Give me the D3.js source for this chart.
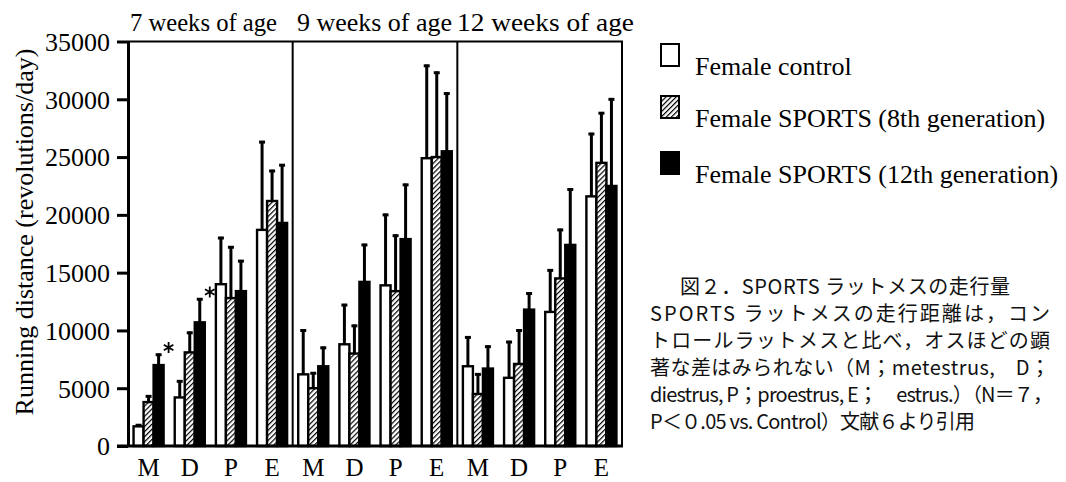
<!DOCTYPE html>
<html>
<head>
<meta charset="utf-8">
<script src="https://cdn.jsdelivr.net/npm/d3@7"></script>
<style>
    body { margin: 0; background: #ffffff; }
    svg { display: block; }
    .serif { font-family: "Liberation Serif", "Times New Roman", serif; fill: #000; }
    .cap { font-family: "Noto Sans CJK JP", "Noto Sans", sans-serif; fill: #111; }
</style>
</head>
<body>
<svg id="chart" width="1066" height="482"></svg>
<script>
// data
var ages = ["7 weeks of age", "9 weeks of age", "12 weeks of age"];
var stages = ["M", "D", "P", "E"];
var series = ["Female control", "Female SPORTS (8th generation)", "Female SPORTS (12th generation)"];
var yTicks = [0, 5000, 10000, 15000, 20000, 25000, 30000, 35000];

// means, one row per age, columns M D P E
var controlMean = [[1700, 4200, 14000, 18700], [6200, 8800, 13900, 24900], [6900, 5900, 11600, 21600]];
var gen8Mean    = [[3800, 8100, 12800, 21200], [5000, 8000, 13400, 25000], [4500, 7100, 14500, 24500]];
var gen12Mean   = [[7000, 10700, 13400, 19300], [6900, 14200, 17900, 25500], [6700, 11800, 17400, 22500]];
// top of error bars
var controlErr = [[1900, 5700, 18100, 26400], [10100, 12300, 20100, 33000], [9500, 9100, 15300, 27100]];
var gen8Err    = [[4400, 9900, 17300, 23900], [6400, 10500, 18300, 32400], [6300, 10100, 18800, 28900]];
var gen12Err   = [[8000, 12800, 16100, 24400], [8600, 17500, 22700, 30600], [8700, 13300, 22300, 30100]];
// significance marks: [age index, stage, series index]
var stars = [[0, "M", 1], [0, "M", 2], [0, "D", 1], [0, "D", 2]];

var captionLines = [
    "図２．SPORTS ラットメスの走行量",
    "SPORTS ラットメスの走行距離は，コン",
    "トロールラットメスと比べ，オスほどの顕",
    "著な差はみられない（M；metestrus,　D；",
    "diestrus, P；proestrus, E；　estrus.）（N＝７，",
    "P＜０.05 vs. Control）文献６より引用"
];

var means = [controlMean, gen8Mean, gen12Mean];
var errs = [controlErr, gen8Err, gen12Err];

var svg = d3.select("#chart");

var defs = svg.append("defs");
var hatch = defs.append("pattern")
    .attr("id", "hatch")
    .attr("patternUnits", "userSpaceOnUse")
    .attr("width", 3.6)
    .attr("height", 3.6)
    .attr("patternTransform", "rotate(45)");
hatch.append("rect").attr("width", 3.6).attr("height", 3.6).attr("fill", "#fff");
hatch.append("line")
    .attr("x1", 0.6).attr("y1", 0).attr("x2", 0.6).attr("y2", 3.6)
    .attr("stroke", "#000").attr("stroke-width", 1.2);

var fills = ["#ffffff", "url(#hatch)", "#000000"];

var plotLeft = 128, plotRight = 622, plotTop = 41.5, plotBottom = 446;

var y = d3.scaleLinear().domain([0, 35000]).range([plotBottom, plotTop]);
var xPanel = d3.scaleBand().domain(d3.range(ages.length)).range([plotLeft, plotRight]);
var xStage = d3.scaleBand().domain(stages)
    .range([0, xPanel.bandwidth()])
    .paddingInner(0.27).paddingOuter(0.135);
var xSeries = d3.scaleBand().domain(d3.range(series.length)).range([0, xStage.bandwidth()]);

function barX(a, s, k) {
    return xPanel(a) + xStage(s) + xSeries(k);
}

// panel titles
var titleLen = [147, 155, 177];
var titleX = [130, 297, 457];
svg.selectAll(".ptitle").data(ages).enter().append("text")
    .attr("class", "ptitle serif")
    .attr("x", function (d, i) { return titleX[i]; })
    .attr("y", 31)
    .attr("font-size", 26)
    .attr("textLength", function (d, i) { return titleLen[i]; })
    .attr("lengthAdjust", "spacingAndGlyphs")
    .text(function (d) { return d; });

// stars go under the bars, like in the figure
var star = d3.symbol().type(d3.symbolAsterisk).size(85);
stars.forEach(function (st) {
    var a = st[0], s = st[1], k = st[2];
    var si = stages.indexOf(s);
    svg.append("path")
        .attr("d", star())
        .attr("transform", "translate(" + (barX(a, s, k) + xSeries.bandwidth() / 2 + 10) + "," +
            (y(errs[k][a][si]) - 6) + ")")
        .attr("fill", "none")
        .attr("stroke", "#000")
        .attr("stroke-width", 1.8);
});

// bars + error bars
ages.forEach(function (age, a) {
    var g = svg.append("g").attr("class", "panel");
    series.forEach(function (name, k) {
        stages.forEach(function (s, si) {
            var x0 = barX(a, s, k);
            var cx = x0 + xSeries.bandwidth() / 2;
            g.append("line")
                .attr("x1", cx).attr("x2", cx)
                .attr("y1", y(means[k][a][si])).attr("y2", y(errs[k][a][si]))
                .attr("stroke", "#000").attr("stroke-width", 3);
            g.append("line")
                .attr("x1", cx - 3).attr("x2", cx + 3)
                .attr("y1", y(errs[k][a][si]) + 1.2).attr("y2", y(errs[k][a][si]) + 1.2)
                .attr("stroke", "#000").attr("stroke-width", 3);
        });
    });
    series.forEach(function (name, k) {
        stages.forEach(function (s, si) {
            g.append("rect")
                .attr("x", barX(a, s, k))
                .attr("y", y(means[k][a][si]))
                .attr("width", xSeries.bandwidth())
                .attr("height", plotBottom - y(means[k][a][si]))
                .attr("fill", fills[k])
                .attr("stroke", "#000")
                .attr("stroke-width", 2.4);
        });
    });
});

// frame: top line and panel dividers
svg.append("line")
    .attr("x1", plotLeft).attr("x2", plotRight + 1)
    .attr("y1", plotTop).attr("y2", plotTop)
    .attr("stroke", "#000").attr("stroke-width", 2);
d3.range(1, ages.length + 1).forEach(function (i) {
    var xv = i < ages.length ? xPanel(i) : plotRight;
    svg.append("line")
        .attr("x1", xv).attr("x2", xv)
        .attr("y1", plotTop).attr("y2", plotBottom)
        .attr("stroke", "#000").attr("stroke-width", 2);
});

// baseline
svg.append("line")
    .attr("x1", 117).attr("x2", plotRight + 1)
    .attr("y1", plotBottom).attr("y2", plotBottom)
    .attr("stroke", "#000").attr("stroke-width", 3);

// y axis
var yAxis = svg.append("g")
    .attr("transform", "translate(" + plotLeft + ",0)")
    .call(d3.axisLeft(y).tickValues(yTicks).tickFormat(d3.format("d"))
        .tickSize(11).tickSizeOuter(0).tickPadding(7));
yAxis.select(".domain").attr("stroke", "#000").attr("stroke-width", 3);
yAxis.selectAll(".tick line").attr("stroke", "#000").attr("stroke-width", 3);
yAxis.selectAll(".tick text")
    .attr("class", "serif")
    .attr("font-size", 26)
    .attr("dy", "0.34em");

svg.append("text")
    .attr("class", "serif")
    .attr("transform", "translate(33," + 232 + ") rotate(-90)")
    .attr("text-anchor", "middle")
    .attr("font-size", 26)
    .text("Running distance (revolutions/day)");

// stage labels
ages.forEach(function (age, a) {
    svg.selectAll(".st" + a).data(stages).enter().append("text")
        .attr("class", "serif")
        .attr("x", function (s) { return xPanel(a) + xStage(s) + xStage.bandwidth() / 2; })
        .attr("y", 476)
        .attr("text-anchor", "middle")
        .attr("font-size", 25)
        .text(function (s) { return s; });
});

// legend
var legY = [44, 96, 152];
var leg = svg.selectAll(".leg").data(series).enter().append("g")
    .attr("class", "leg")
    .attr("transform", function (d, i) { return "translate(661," + legY[i] + ")"; });
leg.append("rect")
    .attr("width", 18).attr("height", 22)
    .attr("fill", function (d, i) { return fills[i]; })
    .attr("stroke", "#000").attr("stroke-width", 2);
leg.append("text")
    .attr("class", "serif")
    .attr("x", 34).attr("y", 31)
    .attr("font-size", 26)
    .text(function (d) { return d; });

// caption
var capX = [680, 650, 650, 650, 650, 650];
var capLen = [330, 400, 400, 400, 403, 325];
svg.selectAll(".capline").data(captionLines).enter().append("text")
    .attr("class", "cap")
    .attr("x", function (d, i) { return capX[i]; })
    .attr("y", function (d, i) { return 294 + i * 27; })
    .attr("font-size", 20)
    .attr("textLength", function (d, i) { return capLen[i]; })
    .attr("lengthAdjust", "spacing")
    .text(function (d) { return d; });
</script>
</body>
</html>
